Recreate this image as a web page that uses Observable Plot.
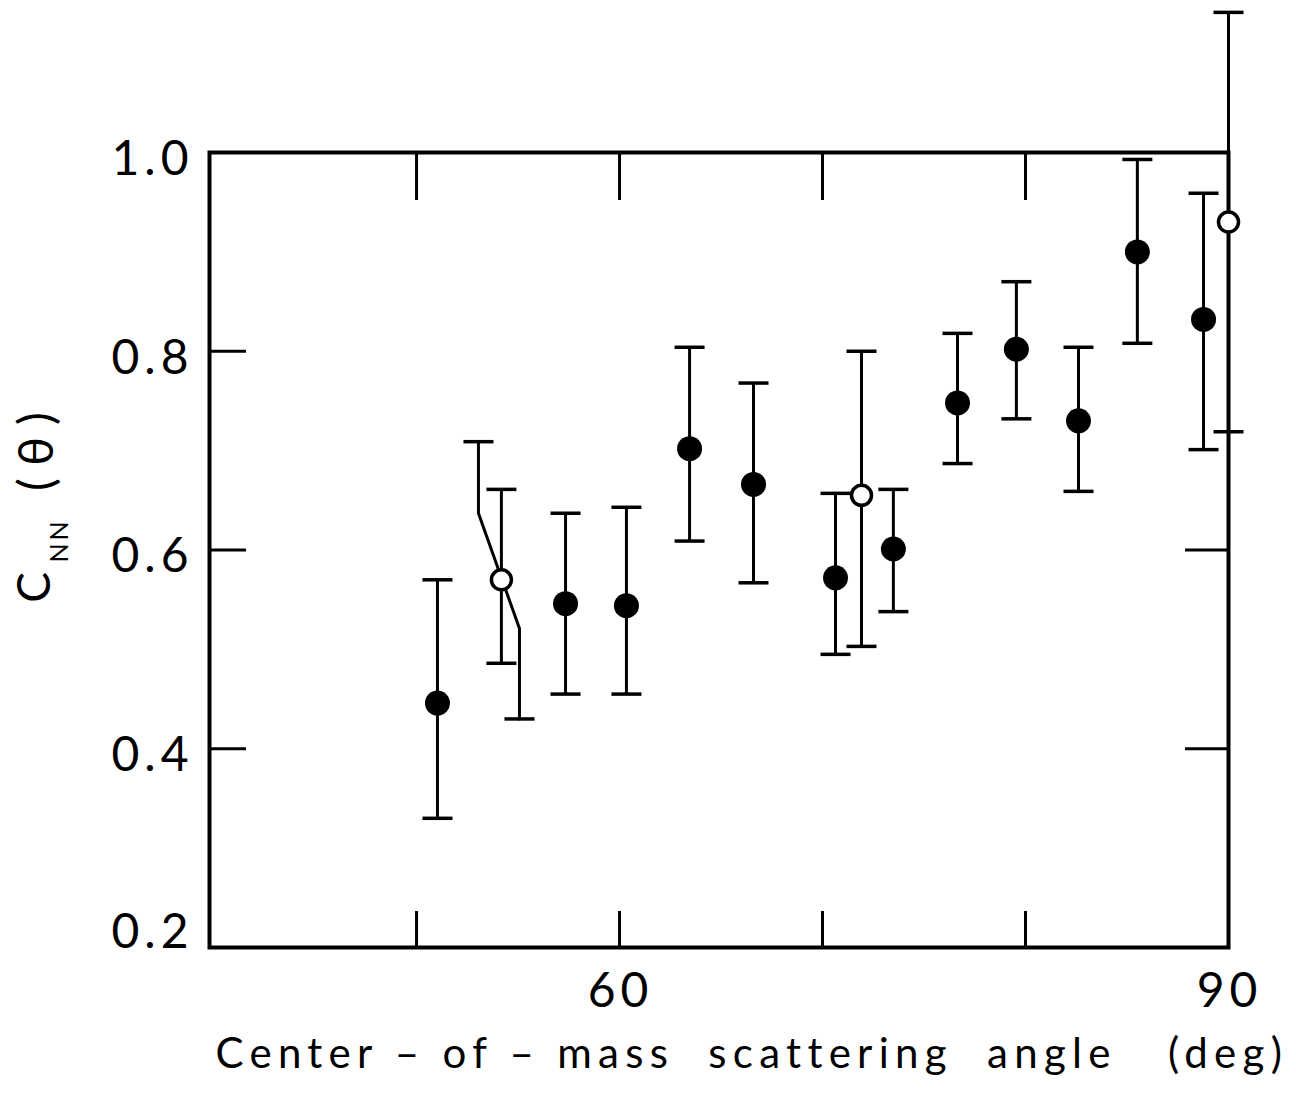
<!DOCTYPE html>
<html><head><meta charset="utf-8">
<script src="https://cdn.jsdelivr.net/npm/d3@7"></script>
<script src="https://cdn.jsdelivr.net/npm/@observablehq/plot@0.6"></script>
<style>
body{margin:0;background:#fff}
g[aria-label="y-axis tick label"] text, g[aria-label="x-axis tick label"] text {letter-spacing: 5px;}
</style>
</head><body><div id="chart"></div>
<script>
// Filled points (angle in deg, C_NN value, error bar ends)
const filledAngle = [51.03, 57.34, 60.34, 63.45, 66.60, 70.64, 73.49, 76.65, 79.55, 82.61, 85.51, 88.77];
const filledValue = [0.446, 0.546, 0.544, 0.702, 0.666, 0.572, 0.601, 0.748, 0.802, 0.730, 0.900, 0.832];
const filledHigh  = [0.570, 0.637, 0.643, 0.804, 0.768, 0.657, 0.661, 0.818, 0.870, 0.804, 0.993, 0.959];
const filledLow   = [0.330, 0.455, 0.455, 0.609, 0.567, 0.495, 0.538, 0.687, 0.732, 0.659, 0.808, 0.701];
// Open points
const openAngle = [54.18, 71.92, 90.0];
const openValue = [0.570, 0.655, 0.930];
const openHigh  = [0.661, 0.800, 1.141];
const openLow   = [0.486, 0.503, 0.719];
// Offset (kinked) error bar near 54 deg
const kinkAngle = [53.05, 53.05, 55.07, 55.07];
const kinkValue = [0.709, 0.637, 0.521, 0.430];
// Axis ticks
const yTickLabels = [0.4, 0.6, 0.8, 1.0];
const yBottomLabel = [0.2];
const xTickLabels = [60, 90];
const xTicks = [50, 60, 70, 80];
const yLeftTicks = [0.4, 0.6, 0.8];
const yRightTicks = [0.4, 0.6];
const xTitle = "Center\u00A0–\u00A0of\u00A0–\u00A0mass\u00A0\u00A0scattering\u00A0\u00A0angle\u00A0\u00A0\u00A0(deg)";

const filled = filledAngle.map((a, i) => ({angle: a, v: filledValue[i], hi: filledHigh[i], lo: filledLow[i]}));
const open = openAngle.map((a, i) => ({angle: a, v: openValue[i], hi: openHigh[i], lo: openLow[i]}));
const all = filled.concat(open);
const kink = kinkAngle.map((a, i) => ({angle: a, v: kinkValue[i]}));
const kinkEnds = [kink[0], kink[kink.length - 1]];

const capSymbol = {
  draw(ctx, size) {
    const r = Math.sqrt(size / Math.PI);
    ctx.moveTo(-r, 0);
    ctx.lineTo(r, 0);
  }
};

const W = 1296, H = 1095, mL = 209, mR = 68, mT = 152, mB = 148;
const fw = W - mL - mR, fh = H - mT - mB;
const font = "Lato, 'DejaVu Sans', sans-serif";

const chart = Plot.plot({
  width: W, height: H,
  marginLeft: mL, marginRight: mR, marginTop: mT, marginBottom: mB,
  x: {domain: [39.8, 90]},
  y: {domain: [0.2, 1.0]},
  style: {fontFamily: font, background: "white", color: "black"},
  marks: [
    Plot.frame({stroke: "black", strokeWidth: 4}),
    Plot.tickX(xTicks, {x: d => d, insetBottom: fh - 48, strokeWidth: 3}),
    Plot.tickX(xTicks, {x: d => d, insetTop: fh - 36, strokeWidth: 3}),
    Plot.tickY(yLeftTicks, {y: d => d, insetRight: fw - 37, strokeWidth: 3}),
    Plot.tickY(yRightTicks, {y: d => d, insetLeft: fw - 43, strokeWidth: 3}),
    Plot.axisY(yTickLabels, {tickSize: 0, tickPadding: 16, fontSize: 48, dy: 7, label: null, tickFormat: d => d.toFixed(1)}),
    Plot.axisY(yBottomLabel, {tickSize: 0, tickPadding: 16, fontSize: 48, dy: -15, label: null, tickFormat: d => d.toFixed(1)}),
    Plot.axisX(xTickLabels, {tickSize: 0, tickPadding: 25, fontSize: 48, dx: 1, label: null}),
    Plot.ruleX(all, {x: "angle", y1: "lo", y2: "hi", stroke: "black", strokeWidth: 3}),
    Plot.dot(all, {x: "angle", y: "hi", symbol: capSymbol, r: 15, fill: "none", stroke: "black", strokeWidth: 3.5}),
    Plot.dot(all, {x: "angle", y: "lo", symbol: capSymbol, r: 15, fill: "none", stroke: "black", strokeWidth: 3.5}),
    Plot.line(kink, {x: "angle", y: "v", stroke: "black", strokeWidth: 3}),
    Plot.dot(kinkEnds, {x: "angle", y: "v", symbol: capSymbol, r: 15, fill: "none", stroke: "black", strokeWidth: 3.5}),
    Plot.dot(filled, {x: "angle", y: "v", r: 12.5, fill: "black", stroke: "none"}),
    Plot.dot(open, {x: "angle", y: "v", r: 10, fill: "white", stroke: "black", strokeWidth: 3.5}),
    Plot.text([xTitle], {text: d => d, frameAnchor: "bottom-left", textAnchor: "start", lineAnchor: "bottom", dx: 6, dy: 120, fontSize: 42}),
    Plot.text(["C"], {text: d => d, frameAnchor: "left", textAnchor: "middle", rotate: -90, dx: -174, dy: 37.5, fontSize: 46}),
    Plot.text(["NN"], {text: d => d, frameAnchor: "left", textAnchor: "middle", rotate: -90, dx: -150, dy: -9.5, fontSize: 25}),
    Plot.text(["(\u00A0θ\u00A0)"], {text: d => d, frameAnchor: "left", textAnchor: "middle", rotate: -90, dx: -172, dy: -98.5, fontSize: 48})
  ]
});

document.getElementById("chart").appendChild(chart);
// stretch x title letter spacing to span the reference width
for (const t of chart.querySelectorAll("text")) {
  if (t.textContent === xTitle) {
    const len = t.getComputedTextLength();
    const n = xTitle.length;
    const ls = (1065 - len) / (n - 1);
    t.style.letterSpacing = ls + "px";
  }
  if (t.textContent === "NN") t.style.letterSpacing = "3px";
}
</script>
</body></html>
